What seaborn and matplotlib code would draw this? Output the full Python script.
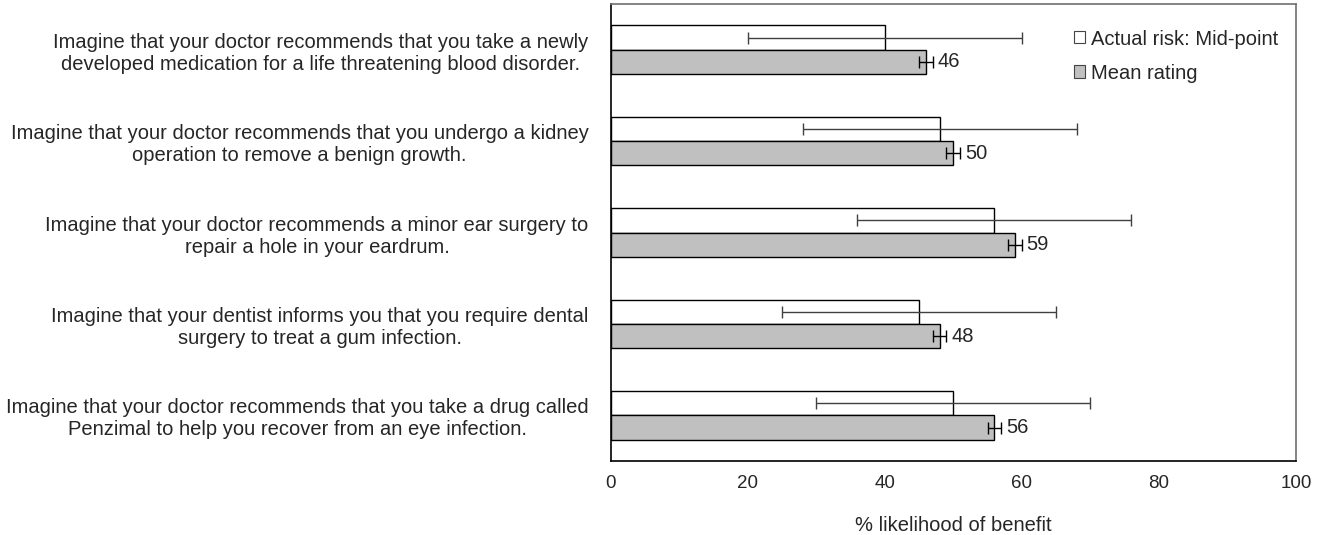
import numpy as np
import pandas as pd
import matplotlib
matplotlib.use("Agg")
import matplotlib.pyplot as plt
import seaborn as sns
from matplotlib.patches import Patch

scenarios = [
    "Imagine that your doctor recommends that you take a newly\ndeveloped medication for a life threatening blood disorder.",
    "Imagine that your doctor recommends that you undergo a kidney\noperation to remove a benign growth.",
    "Imagine that your doctor recommends a minor ear surgery to\nrepair a hole in your eardrum.",
    "Imagine that your dentist informs you that you require dental\nsurgery to treat a gum infection.",
    "Imagine that your doctor recommends that you take a drug called\nPenzimal to help you recover from an eye infection.",
]
series = ["Actual risk: Mid-point", "Mean rating"]
actual_mid = [40, 48, 56, 45, 50]
actual_err = [20, 20, 20, 20, 20]
mean_rating = [46, 50, 59, 48, 56]
mean_err = [1, 1, 1, 1, 1]
x_ticks = [0, 20, 40, 60, 80, 100]

sns.set_style("white")
plt.rcParams['font.family'] = ['Liberation Sans', 'DejaVu Sans']
fs = 14.5

df = pd.DataFrame({
    "scenario": scenarios * 2,
    "value": actual_mid + mean_rating,
    "series": [series[0]] * 5 + [series[1]] * 5,
})

fig = plt.figure(figsize=(13.25, 5.35), dpi=100)
ax = fig.add_axes([0.461, 0.138, 0.517, 0.8545])

sns.barplot(data=df, y="scenario", x="value", hue="series", orient="h",
            palette=["white", "#c0c0c0"], edgecolor="black", linewidth=1,
            width=0.53, gap=0, errorbar=None, legend=False, ax=ax)

# error bars and value labels from the bar patches
for cont, vals, errs in zip(ax.containers, [actual_mid, mean_rating], [actual_err, mean_err]):
    for bar, v, e in zip(cont, vals, errs):
        yc = bar.get_y() + bar.get_height() / 2
        ax.errorbar(v, yc, xerr=e, color="#404040" if e > 5 else "black",
                    lw=1, capsize=4, capthick=1)
        if e < 5:
            ax.text(v + e + 0.7, yc, f"{v}", va="center", ha="left", fontsize=fs)

ax.set_xlim(0, 100)
ax.set_ylim(4.5, -0.5)
ax.set_xticks(x_ticks)
ax.tick_params(axis="x", labelsize=13.5, length=0, pad=10)
ax.tick_params(axis="y", length=0, pad=16)
for lab in ax.get_yticklabels():
    lab.set_fontsize(fs)
    lab.set_multialignment("center")
    lab.set_linespacing(1.2)
ax.set_ylabel("")
ax.set_xlabel("% likelihood of benefit", fontsize=fs)
ax.xaxis.set_label_coords(0.5, -0.12)

for side in ["left", "bottom"]:
    ax.spines[side].set_color("black")
for side in ["top", "right"]:
    ax.spines[side].set_color("#707070")
for sp in ax.spines.values():
    sp.set_linewidth(1.2)

handles = [Patch(facecolor="white", edgecolor="#444444", lw=0.8),
           Patch(facecolor="#c0c0c0", edgecolor="#444444", lw=0.8)]
ax.legend(handles, series, loc="upper right", bbox_to_anchor=(0.995, 0.975), frameon=False,
          fontsize=fs, handlelength=0.55, handleheight=0.55, handletextpad=0.3,
          labelspacing=0.75, borderaxespad=0.3)

fig.savefig("out.png", dpi=100)
